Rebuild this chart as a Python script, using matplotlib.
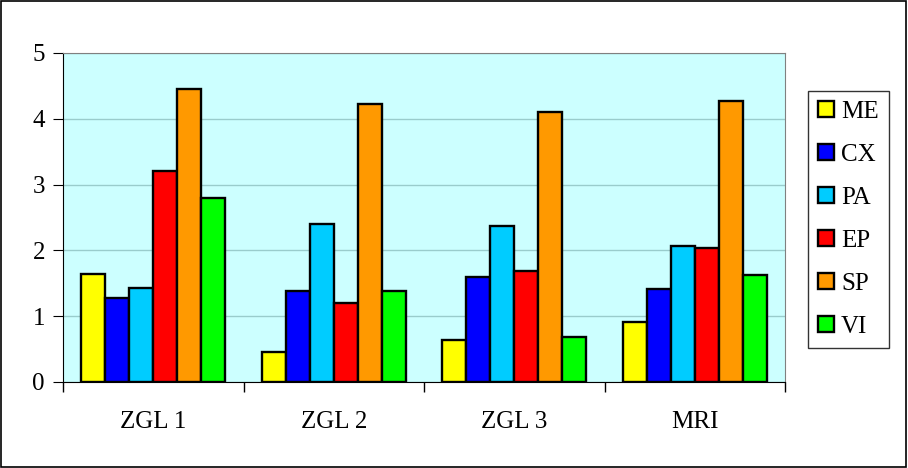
import numpy as np
import matplotlib
matplotlib.use("Agg")
import matplotlib.pyplot as plt
from matplotlib.patches import Rectangle

plt.rcParams['font.family'] = ['Liberation Serif', 'DejaVu Serif']

groups = ['ZGL 1', 'ZGL 2', 'ZGL 3', 'MRI']
series = ['ME', 'CX', 'PA', 'EP', 'SP', 'VI']
ME = [1.64, 0.45, 0.64, 0.91]
CX = [1.28, 1.39, 1.59, 1.42]
PA = [1.43, 2.40, 2.37, 2.06]
EP = [3.20, 1.20, 1.69, 2.03]
SP = [4.45, 4.23, 4.11, 4.27]
VI = [2.80, 1.39, 0.69, 1.63]
colors = ['#FFFF00', '#0000FF', '#00CCFF', '#FF0000', '#FF9900', '#00FF00']

fig = plt.figure(figsize=(9.08, 4.68), dpi=100)
fig.patches.append(Rectangle((0.001, 0.002), 0.997, 0.995, transform=fig.transFigure,
                             fill=False, edgecolor='black', linewidth=1.2))
ax = fig.add_axes([0.0694, 0.1838, 0.7952, 0.703])
ax.set_facecolor('#CCFFFF')

x = np.arange(len(groups))
w = 0.8 / 6
for i, (name, vals) in enumerate(zip(series, [ME, CX, PA, EP, SP, VI])):
    ax.bar(x - 0.4 + w * (i + 0.5), vals, width=w, color=colors[i],
           edgecolor='black', linewidth=1.7, label=name, zorder=3)

ax.set_xlim(-0.5, 3.5)
ax.set_ylim(0, 5)
ax.set_yticks(range(6))
ax.set_xticks(np.arange(-0.5, 4, 1))
ax.set_xticklabels([])
ax.set_xticks(x, minor=True)
ax.set_xticklabels(groups, minor=True)
ax.tick_params(axis='x', which='minor', length=0, pad=21, labelsize=18)
ax.tick_params(axis='x', which='major', length=7, direction='out', width=1)
ax.tick_params(axis='y', length=7, direction='out', labelsize=18, pad=6)
ax.yaxis.grid(True, color='#99CCCC', linewidth=1, zorder=0)

for s in ['top', 'right']:
    ax.spines[s].set_color('#808080')
for s in ['left', 'bottom']:
    ax.spines[s].set_color('black')

leg = ax.legend(loc='upper left', bbox_to_anchor=(808 / 908, 1 - 91 / 468), bbox_transform=fig.transFigure,
                fontsize=18, frameon=True, fancybox=False, edgecolor='black',
                labelspacing=0.84, handlelength=0.62, handleheight=0.62, handletextpad=0.3,
                borderpad=0.4, borderaxespad=0)
leg.get_frame().set_linewidth(1)

fig.savefig('out.png', dpi=100)
